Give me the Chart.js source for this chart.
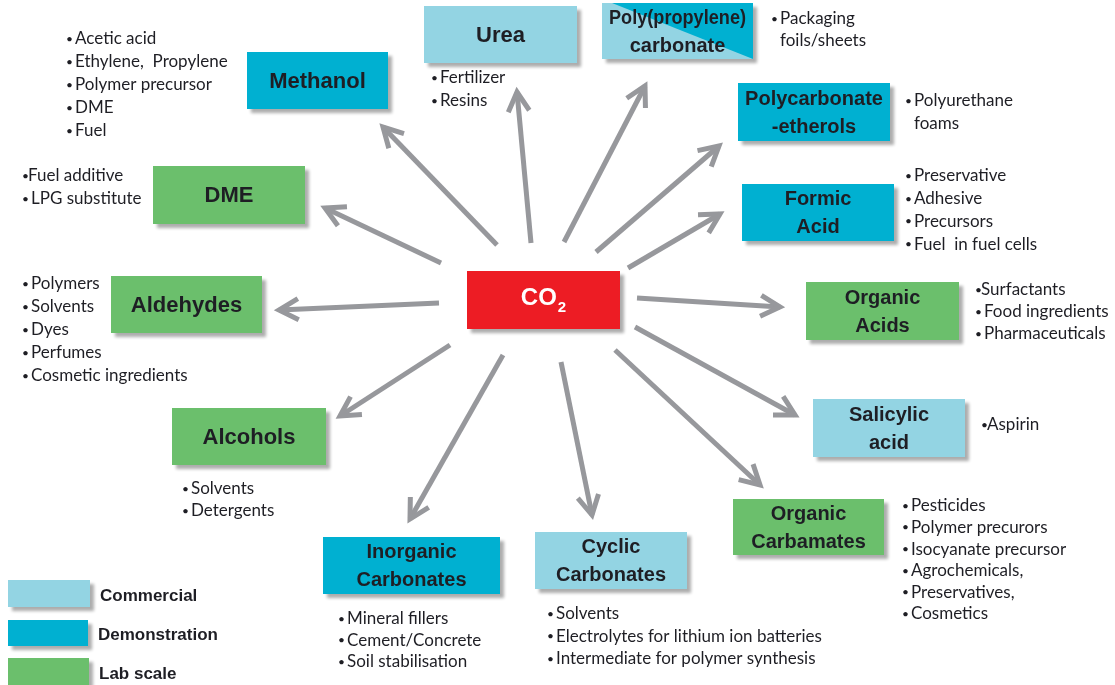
<!DOCTYPE html>
<html>
<head>
<meta charset="utf-8">
<title>CO2 utilisation routes</title>
<script src="https://cdn.jsdelivr.net/npm/chart.js@4.4.0/dist/chart.umd.min.js"></script>
<style>
  html, body { margin: 0; padding: 0; background: #fff; }
  #wrap { width: 1115px; height: 685px; position: relative; }
</style>
</head>
<body>
<div id="wrap"><canvas id="co2Map"></canvas></div>
<script>
/* ============================================
   CO2 conversion products — Chart.js diagram
   ============================================ */

// --- Data ---
const source = 'CO2';
const products = [
  'Urea', 'Poly(propylene)\ncarbonate', 'Methanol', 'Polycarbonate\n-etherols',
  'DME', 'Formic\nAcid', 'Aldehydes', 'Organic\nAcids', 'Alcohols',
  'Salicylic\nacid', 'Inorganic\nCarbonates', 'Cyclic\nCarbonates', 'Organic\nCarbamates',
];
const stages = [
  'Commercial', 'Commercial/Demonstration', 'Demonstration', 'Demonstration',
  'Lab scale', 'Demonstration', 'Lab scale', 'Lab scale', 'Lab scale',
  'Commercial', 'Demonstration', 'Commercial', 'Lab scale',
];
const uses = [
  ['• Fertilizer', '• Resins'],
  ['• Packaging\nfoils/sheets'],
  ['• Acetic acid', '• Ethylene,  Propylene', '• Polymer precursor', '• DME', '• Fuel'],
  ['• Polyurethane\nfoams'],
  ['•Fuel additive', '• LPG substitute'],
  ['• Preservative', '• Adhesive', '• Precursors', '• Fuel  in fuel cells'],
  ['• Polymers', '• Solvents', '• Dyes', '• Perfumes', '• Cosmetic ingredients'],
  ['•Surfactants', '• Food ingredients', '• Pharmaceuticals'],
  ['• Solvents', '• Detergents'],
  ['•Aspirin'],
  ['• Mineral fillers', '• Cement/Concrete', '• Soil stabilisation'],
  ['• Solvents', '• Electrolytes for lithium ion batteries', '• Intermediate for polymer synthesis'],
  ['• Pesticides', '• Polymer precurors', '• Isocyanate precursor', '• Agrochemicals,', '• Preservatives,', '• Cosmetics'],
];
const stageNames = ['Commercial', 'Demonstration', 'Lab scale'];

// --- Layout (chart units) ---
const sourceBox = [467, 271, 620, 329];
const boxes = [
  [424, 6, 577, 63], [602, 3, 753, 59], [247, 52, 388, 109], [738, 83, 890, 141],
  [153, 166, 305, 224], [742, 184, 894, 241], [111, 276, 262, 333], [806, 282, 959, 340],
  [172, 408, 326, 465], [813, 399, 965, 457], [323, 537, 500, 594], [535, 532, 687, 589],
  [733, 499, 884, 555],
];
const arrowFrom = [
  [531, 243], [564, 242], [497, 245], [596, 252], [441, 263], [628, 268], [439, 303],
  [637, 298], [450, 345], [635, 327], [503, 355], [561, 362], [615, 350],
];
const arrowTo = [
  [517, 92], [645, 86], [383, 127], [719, 146], [325, 208], [720, 214], [279, 310],
  [780, 307], [340, 416], [795, 415], [410, 519], [592, 515], [760, 485],
];
// bullet x, first line y, line step
const listAt = [
  [431, 78, 23], [771, 19, 22], [66, 39, 23], [905, 101, 23], [22, 176, 23],
  [905, 176, 22.7], [22, 284, 23], [975, 290, 22], [182, 489, 22], [981, 425, 22],
  [338, 619, 21.5], [547, 614, 22.5], [902, 506, 21.6],
];
const legendAt = [[8, 580, 90, 607], [8, 620, 88, 646], [8, 658, 89, 686]];

// --- Styles ---
const STAGE_COLORS = {
  'Commercial': '#93d4e3',
  'Demonstration': '#00b0d1',
  'Lab scale': '#6bbf6c',
};
const SOURCE_COLOR = '#ed1c24';
const ARROW_COLOR = '#97989c';
const TEXT_COLOR = '#1e1e24';
const LABEL_FONT = "'Liberation Sans', Arial, sans-serif";
const USE_FONT = "Lato, 'Open Sans', sans-serif";

// --- Draw helpers ---
function rectPx(chart, r) {
  const { x, y } = chart.scales;
  const x0 = x.getPixelForValue(r[0]), y0 = y.getPixelForValue(r[1]);
  const x1 = x.getPixelForValue(r[2]), y1 = y.getPixelForValue(r[3]);
  return { x0, y0, w: x1 - x0, h: y1 - y0 };
}

function shadowOn(ctx) {
  ctx.shadowColor = 'rgba(0, 0, 0, 0.32)';
  ctx.shadowBlur = 3;
  ctx.shadowOffsetX = 4;
  ctx.shadowOffsetY = 4;
}

function drawBox(ctx, b, stage) {
  ctx.save();
  shadowOn(ctx);
  const parts = stage.split('/');
  ctx.fillStyle = STAGE_COLORS[parts[0]];
  ctx.fillRect(b.x0, b.y0, b.w, b.h);
  ctx.restore();
  if (parts.length > 1) {
    // split box: second stage on the upper-right half
    ctx.save();
    ctx.fillStyle = STAGE_COLORS[parts[1]];
    ctx.beginPath();
    ctx.moveTo(b.x0 + 10, b.y0);
    ctx.lineTo(b.x0 + b.w, b.y0);
    ctx.lineTo(b.x0 + b.w, b.y0 + b.h);
    ctx.closePath();
    ctx.fill();
    ctx.restore();
  }
}

function drawLabel(ctx, b, text) {
  const lines = text.split('\n');
  const size = lines.length > 1 ? 20 : 22;
  const step = lines.length > 1 ? 28 : 0;
  ctx.save();
  ctx.font = `bold ${size}px ${LABEL_FONT}`;
  ctx.fillStyle = TEXT_COLOR;
  ctx.textAlign = 'center';
  ctx.textBaseline = 'middle';
  const cx = b.x0 + b.w / 2;
  const cy = b.y0 + b.h / 2 + 1;
  lines.forEach((ln, k) => {
    ctx.fillText(ln, cx, cy + (k - (lines.length - 1) / 2) * step, b.w - 14);
  });
  ctx.restore();
}

// --- Plugin ---
const diagramPlugin = {
  id: 'co2Diagram',
  afterDatasetsDraw(chart) {
    const { ctx, scales: { x, y } } = chart;

    // arrow heads on the end of each line
    chart.data.datasets.forEach((ds, i) => {
      const pts = chart.getDatasetMeta(i).data;
      const a = pts[0], b = pts[pts.length - 1];
      const ang = Math.atan2(b.y - a.y, b.x - a.x);
      const len = 22, spread = 0.5;
      ctx.save();
      ctx.strokeStyle = ARROW_COLOR;
      ctx.lineWidth = 5;
      ctx.lineJoin = 'miter';
      ctx.lineCap = 'butt';
      ctx.beginPath();
      ctx.moveTo(b.x - len * Math.cos(ang - spread), b.y - len * Math.sin(ang - spread));
      ctx.lineTo(b.x, b.y);
      ctx.lineTo(b.x - len * Math.cos(ang + spread), b.y - len * Math.sin(ang + spread));
      ctx.stroke();
      ctx.restore();
    });

    // product boxes
    products.forEach((name, i) => {
      const b = rectPx(chart, boxes[i]);
      drawBox(ctx, b, stages[i]);
      drawLabel(ctx, b, name);
    });

    // CO2 box
    const s = rectPx(chart, sourceBox);
    ctx.save();
    shadowOn(ctx);
    ctx.fillStyle = SOURCE_COLOR;
    ctx.fillRect(s.x0, s.y0, s.w, s.h);
    ctx.restore();
    ctx.save();
    ctx.fillStyle = '#fff';
    ctx.textBaseline = 'middle';
    ctx.font = `bold 24px ${LABEL_FONT}`;
    const main = source.slice(0, 2), sub = source.slice(2);
    const wMain = ctx.measureText(main).width;
    ctx.font = `bold 15px ${LABEL_FONT}`;
    const wSub = ctx.measureText(sub).width;
    const sx = s.x0 + s.w / 2 - (wMain + wSub + 1) / 2;
    const sy = s.y0 + s.h / 2 - 2;
    ctx.font = `bold 24px ${LABEL_FONT}`;
    ctx.fillText(main, sx, sy);
    ctx.font = `bold 15px ${LABEL_FONT}`;
    ctx.fillText(sub, sx + wMain + 1, sy + 10);
    ctx.restore();

    // application lists: small bullet glyph, then text
    ctx.save();
    ctx.fillStyle = TEXT_COLOR;
    ctx.textAlign = 'left';
    ctx.textBaseline = 'middle';
    uses.forEach((list, i) => {
      const [lx, ly, step] = listAt[i];
      const px = x.getPixelForValue(lx);
      let row = 0;
      list.forEach(item => {
        const m = item.match(/^(•)(\s*)([\s\S]*)$/);
        const gap = m[2].length ? 9 : 6;
        const parts = m[3].split('\n');
        parts.forEach((p, k) => {
          const py = y.getPixelForValue(ly + row * step);
          if (k === 0) {
            ctx.font = `12px ${USE_FONT}`;
            ctx.fillText(m[1], px, py);
          }
          ctx.font = `17px ${USE_FONT}`;
          ctx.fillText(p, px + gap, py);
          row++;
        });
      });
    });
    ctx.restore();

    // stage legend
    stageNames.forEach((name, i) => {
      const b = rectPx(chart, legendAt[i]);
      ctx.save();
      shadowOn(ctx);
      ctx.fillStyle = STAGE_COLORS[name];
      ctx.fillRect(b.x0, b.y0, b.w, b.h);
      ctx.restore();
      ctx.save();
      ctx.font = `bold 17px ${LABEL_FONT}`;
      ctx.fillStyle = TEXT_COLOR;
      ctx.textBaseline = 'middle';
      ctx.fillText(name, b.x0 + b.w + 10, b.y0 + b.h / 2 + 2.5);
      ctx.restore();
    });
  },
};

// --- Chart ---
new Chart(document.getElementById('co2Map'), {
  type: 'scatter',
  data: {
    datasets: products.map((name, i) => ({
      label: name.replace('\n', ' '),
      data: [
        { x: arrowFrom[i][0], y: arrowFrom[i][1] },
        { x: arrowTo[i][0], y: arrowTo[i][1] },
      ],
      showLine: true,
      borderColor: ARROW_COLOR,
      borderWidth: 5,
      pointRadius: 0,
      clip: false,
    })),
  },
  options: {
    responsive: true,
    maintainAspectRatio: false,
    animation: false,
    events: [],
    layout: { padding: 0 },
    plugins: {
      legend: { display: false },
      tooltip: { enabled: false },
    },
    scales: {
      x: { type: 'linear', min: 0, max: 1115, display: false },
      y: { type: 'linear', min: 0, max: 685, reverse: true, display: false },
    },
  },
  plugins: [diagramPlugin],
});
</script>
</body>
</html>
